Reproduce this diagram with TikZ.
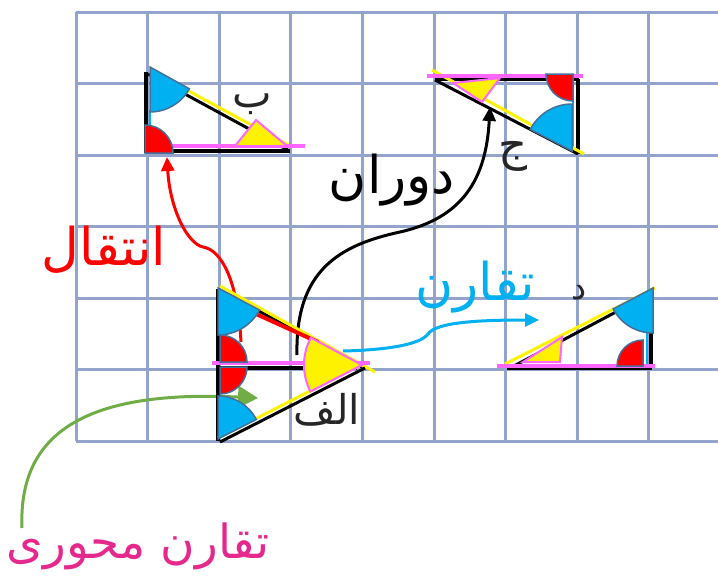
\documentclass[tikz,border=0pt]{standalone}
\usepackage{fontspec}
\usetikzlibrary{arrows.meta}
\newfontfamily\arabicfont[Script=Arabic]{DejaVu Sans}
\TeXXeTstate=1
\definecolor{gridblue}{RGB}{146,163,204}
\definecolor{cyanblue}{RGB}{0,176,240}
\definecolor{angpink}{RGB}{255,102,255}
\definecolor{edgeblue}{RGB}{65,113,156}
\definecolor{leafgreen}{RGB}{112,173,71}
\definecolor{labelpink}{RGB}{230,40,140}

\tikzset{
  leg/.style={line width=4pt, black},
  hyp/.style={line width=3pt, yellow},
  baseline pink/.style={line width=3.5pt, angpink},
  strip/.style={line width=2.5pt, cyanblue},
  move arrow/.style={line width=3pt, -{Triangle[length=14pt,width=13pt]}},
  word/.style={font=\arabicfont\fontsize{52}{60}\selectfont, inner sep=0pt},
  letter/.style={font=\arabicfont\fontsize{42}{48}\selectfont, inner sep=0pt, black!85}
}
% angle marker: fill, centre, start, end, radius
\newcommand{\angsector}[5]{\filldraw[fill=#1, draw=edgeblue, line width=1.5pt] (#2) -- ++(#3:#5) arc[start angle=#3, end angle=#4, radius=#5] -- cycle;}
\newcommand{\yelsector}[4]{\filldraw[fill=yellow, draw=angpink, line width=2pt] (#1) -- ++(#2:#4) arc[start angle=#2, end angle=#3, radius=#4] -- cycle;}

\begin{document}
\begin{tikzpicture}[x=1pt,y=-1pt]
\useasboundingbox (0,0) rectangle (718,576);
% Grid
\foreach \i in {0,...,9}
  \draw[gridblue, line width=3pt] (76+71.6*\i,12) -- (76+71.6*\i,441);
\foreach \j in {0,...,6}
  \draw[gridblue, line width=3pt] (76,12+71.5*\j) -- (718,12+71.5*\j);

% Arrow ends
\coordinate (redS) at (241,342);
\coordinate (redE) at (167,157);
\coordinate (blkS) at (297,355);
\coordinate (blkE) at (490,107);
\coordinate (cyaS) at (343,351);
\coordinate (cyaE) at (539,320);
\coordinate (grnS) at (22,528);
\coordinate (grnE) at (258,398);

% Arrows
\draw[move arrow, red] (redS) .. controls (238,282) and (222,250) .. (203,247)
  .. controls (188,244) and (170,210) .. (redE);
\draw[move arrow, black] (blkS) .. controls (295,270) and (340,245) .. (400,232)
  .. controls (462,218) and (486,180) .. (blkE);
\draw[move arrow, cyanblue] (cyaS) .. controls (385,350) and (420,345) .. (428,334)
  .. controls (436,322) and (480,320) .. (cyaE);
\draw[move arrow, leafgreen, -{Triangle[length=20pt,width=22pt]}] (grnS) .. controls (18,430) and (90,390) .. (grnE);

% Triangle alef
\draw[leg] (218,289) -- (218,441);
\draw[leg] (218,368) -- (357,368);
\draw[line width=3pt, black] (220,290) -- (362,367);
\draw[hyp] (220,286) -- (375,372);
\draw[line width=4pt, red] (245,309) -- (318,342);
\draw[line width=3pt, black] (220,442) -- (365,368);
\draw[hyp] (218,438) -- (365,363);
\draw[baseline pink] (212,363) -- (370,363);
\angsector{cyanblue}{218,288}{28}{90}{47}
\angsector{red}{220,362}{270}{360}{27}
\angsector{red}{220,367}{0}{90}{27}
\angsector{cyanblue}{218,439}{270}{333}{43}
\yelsector{362,365}{152.8}{208.1}{58}

% Triangle be (translation)
\draw[strip] (150,110) -- (150,130);
\draw[leg] (146,72) -- (146,153);
\draw[leg] (144,151) -- (290,151);
\draw[line width=3pt, black] (148,74) -- (288,150);
\draw[hyp] (150,70) -- (290,146);
\draw[baseline pink] (150,146) -- (305,146);
\angsector{cyanblue}{150,67}{29}{90}{45}
\angsector{red}{145,153}{270}{360}{28}
\filldraw[fill=yellow, draw=angpink, line width=2pt] (235,146) -- (256,120) -- (287,146) -- cycle;

% Triangle jim (rotation)
\draw[strip] (573,80) -- (573,150);
\draw[leg] (435,79) -- (579,79);
\draw[leg] (578,79) -- (578,154);
\draw[line width=3pt, black] (435,80) -- (578,154);
\draw[hyp] (432,70) -- (584,154);
\draw[baseline pink] (427,76) -- (583,76);
\angsector{red}{573,74}{90}{180}{27}
\angsector{cyanblue}{572,151}{207.4}{270}{47}
\filldraw[fill=yellow, draw=angpink, line width=2pt] (453,83) -- (500,78) -- (482,102) -- cycle;

% Triangle dal (symmetry)
\draw[strip] (647,300) -- (647,364);
\draw[leg] (507,368) -- (652,368);
\draw[leg] (651,290) -- (651,368);
\draw[line width=3pt, black] (512,367) -- (650,294);
\draw[hyp] (505,364) -- (655,288);
\draw[baseline pink] (497,366) -- (655,366);
\angsector{cyanblue}{653,288}{90}{152.2}{45}
\angsector{red}{643,366}{180}{270}{26}
\filldraw[fill=yellow, draw=angpink, line width=2pt] (523,362) -- (562,337) -- (560,362) -- cycle;

% Labels
\node[word, red] (lblMove) at (104,250) {\beginR انتقال\endR};
\node[word, black] (lblTurn) at (392,180) {\beginR دوران\endR};
\node[word, cyanblue] (lblSym) at (475,287) {\beginR تقارن\endR};
\node[word, labelpink, font=\arabicfont\fontsize{47}{54}\selectfont] (lblAxis) at (138,546) {\beginR تقارن محوری\endR};
\node[letter] (nameB) at (252,104) {\beginR ب\endR};
\node[letter, font=\arabicfont\fontsize{45}{52}\selectfont] (nameJ) at (513,156) {\beginR ج\endR};
\node[letter, font=\arabicfont\fontsize{34}{40}\selectfont] (nameD) at (579,293) {\beginR د\endR};
\node[letter, font=\arabicfont\fontsize{41}{48}\selectfont] (nameA) at (327,410) {\beginR الف\endR};
\end{tikzpicture}
\end{document}
